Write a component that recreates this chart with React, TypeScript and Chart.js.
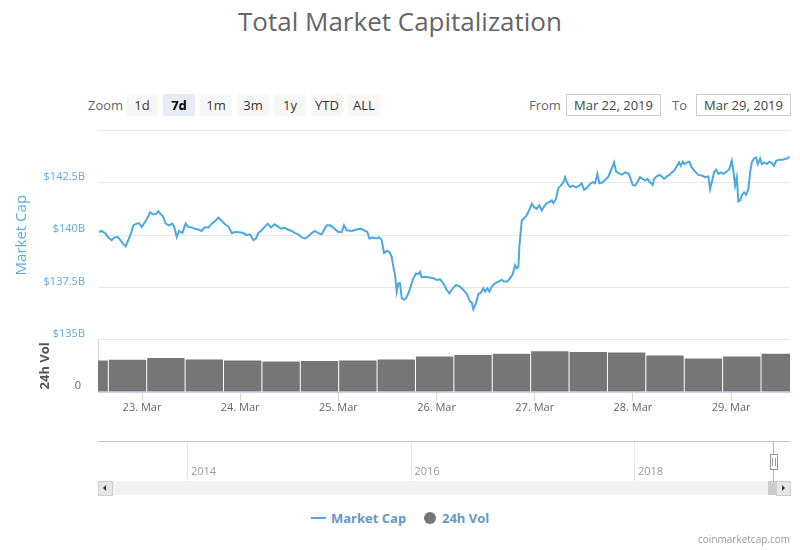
import React, { useEffect, useRef } from "react";
import { Chart, registerables } from "chart.js";

Chart.register(...registerables);
Chart.defaults.font.family = "'Open Sans', sans-serif";

// ---- data (hours since 22 Mar 2019 00:00) ----
const capHours = [
  13.48, 14.14, 14.95, 15.76, 16.59, 17.22, 18.06, 18.62, 19.43, 20.01,
  20.65, 21.31, 21.87, 22.7, 23.26, 23.92, 24.73, 25.39, 25.95, 26.76,
  27.59, 27.98, 28.64, 29.2, 29.79, 30.6, 31.4, 31.89, 32.48, 33.04,
  33.85, 34.68, 35.32, 36.29, 36.96, 37.76, 38.59, 39.4, 40.21, 41.04,
  41.84, 42.65, 43.31, 44.29, 45.1, 45.93, 46.73, 47.71, 48.76, 49.6,
  50.4, 51.21, 51.87, 52.43, 53.26, 54.07, 54.73, 55.54, 56.34, 57.17,
  57.98, 58.79, 59.62, 60.6, 61.4, 62.21, 63.04, 63.85, 64.66, 65.49,
  66.29, 67.1, 67.93, 68.57, 69.15,
  69.96, 70.77, 71.99, 72.82, 73.38, 74.04, 75.26, 76.49, 77.47, 78.52,
  79.08, 79.57, 80.4, 81.21, 82.01, 82.6, 83.16, 83.82, 84.46, 85.04,
  85.44, 85.85, 86.27, 86.66, 87.07, 87.49, 88.05, 88.54, 89.1, 89.69,
  90.33, 90.99, 91.55, 91.96, 92.38, 93.18, 94.24, 95.22, 96.05, 96.85,
  97.66, 98.49, 99.13, 99.96, 100.76, 101.74, 102.55, 103.38, 104.19, 104.6,
  104.99, 105.65, 106.22, 106.8, 107.44, 107.86, 108.42, 108.91, 109.49, 110.3,
  111.11, 111.94, 112.5, 113.31, 113.97, 114.63, 115.19, 115.61, 116.0, 116.24,
  116.83, 117.39, 118.05, 118.69, 119.27, 119.84, 120.49, 121.13, 121.71, 122.28,
  122.94, 123.58, 124.16, 124.55, 125.21, 125.78, 126.36, 127.0, 127.41, 127.97,
  128.63, 129.3, 130.1, 130.91, 131.49, 132.06, 132.72, 133.52, 134.18, 134.75,
  135.31, 135.8, 136.63, 137.44, 138.0, 138.59, 139.08, 139.4, 139.88, 140.44,
  141.27, 142.08, 142.89,
  143.3, 143.96, 144.52, 145.09, 145.75, 146.41, 146.97, 147.53, 148.19, 148.85,
  149.17, 149.83, 150.47, 151.06, 151.62, 152.28, 152.92, 153.5, 154.06, 154.72,
  155.28, 155.7, 156.19, 156.58, 157.17, 157.8, 158.39, 159.2, 160.0, 160.84,
  161.64, 162.45, 162.87, 163.28, 163.84, 164.33, 164.9, 165.48, 166.12, 166.95,
  167.58, 168.17, 168.56, 168.98, 169.39, 169.78, 170.2, 170.61, 171.18, 171.67,
  172.23, 172.65, 173.06, 173.62, 174.11, 174.53, 175.09, 175.51, 176.07, 176.73,
  177.37, 177.95, 178.52, 179.01, 179.81, 180.64, 181.2, 181.77, 182.26,
];

const capValues = [
  140.15, 140.2, 140.1, 139.89, 139.76, 139.89, 139.91, 139.79, 139.57, 139.47,
  139.76, 140.08, 140.47, 140.55, 140.58, 140.39, 140.63, 140.84, 141.1, 140.99,
  141.03, 141.15, 140.99, 140.87, 140.55, 140.47, 140.55, 140.39, 139.91, 140.2,
  140.1, 140.55, 140.39, 140.36, 140.31, 140.27, 140.2, 140.39, 140.36, 140.55,
  140.67, 140.84, 140.71, 140.52, 140.42, 140.1, 140.15, 140.14, 140.1, 140.0,
  140.04, 139.76, 139.84, 140.1, 140.23, 140.42, 140.55, 140.36, 140.52, 140.42,
  140.31, 140.36, 140.27, 140.2, 140.1, 140.04, 139.89, 139.84, 139.95, 140.1,
  140.2, 140.1, 140.04, 140.27, 140.47,
  140.47, 140.36, 140.15, 140.15, 140.47, 140.23, 140.2, 140.27, 140.31, 140.2,
  140.15, 139.84, 139.89, 139.84, 139.89, 139.76, 139.15, 139.25, 139.2, 138.96,
  138.49, 138.09, 137.3, 137.7, 137.7, 136.99, 136.91, 136.99, 137.22, 137.54,
  137.94, 138.17, 138.14, 138.25, 137.98, 138.01, 137.98, 137.94, 137.86, 137.89,
  137.7, 137.38, 137.22, 137.46, 137.62, 137.54, 137.38, 137.19, 136.83, 136.78,
  136.46, 136.75, 137.19, 137.25, 137.46, 137.3, 137.46, 137.3, 137.54, 137.7,
  137.78, 137.86, 137.78, 137.78, 137.94, 138.14, 138.57, 138.41, 138.49, 139.44,
  140.71, 140.79, 140.95, 141.22, 141.5, 141.34, 141.26, 141.42, 141.18, 141.37,
  141.53, 141.58, 141.66, 141.53, 141.74, 142.26, 142.37, 142.53, 142.77, 142.48,
  142.29, 142.37, 142.29, 142.37, 142.48, 142.17, 142.26, 142.45, 142.53, 142.48,
  142.93, 142.48, 142.53, 142.69, 142.8, 143.08, 143.32, 143.48, 143.05, 142.96,
  142.89, 143.0, 142.96,
  142.77, 142.4, 142.37, 142.53, 142.77, 142.69, 142.61, 142.69, 142.53, 142.4,
  142.69, 142.81, 142.88, 142.81, 142.69, 142.81, 142.88, 143.0, 143.08, 143.29,
  143.48, 143.32, 143.51, 143.4, 143.48, 143.51, 143.24, 143.04, 142.88, 142.85,
  142.77, 142.81, 142.21, 142.53, 143.0, 143.13, 142.93, 143.0, 142.93, 143.04,
  143.17, 143.56, 143.08, 142.37, 142.77, 141.61, 141.66, 141.9, 142.05, 141.93,
  142.21, 143.0, 143.48, 143.67, 143.72, 143.4, 143.67, 143.4, 143.48, 143.4,
  143.51, 143.45, 143.32, 143.56, 143.61, 143.61, 143.64, 143.67, 143.76,
];

const volHours = [
  11.07, 20.46, 29.84, 39.23, 48.61, 58.0, 67.38, 76.77, 86.15, 95.54,
  104.92, 114.31, 123.69, 133.08, 142.46, 151.85, 161.23, 170.62, 180.0,
];
const volValues = [
  30.2, 30.8, 32.4, 31.1, 30.2, 29.2, 29.7, 30.2, 31.1, 34.0,
  35.4, 36.5, 38.9, 38.2, 37.7, 34.9, 32.1, 34.0, 36.5,
];

const xMin = 13.24;
const xMax = 182.4;
const dayTicks = [24, 48, 72, 96, 120, 144, 168];
const dayLabels = ["23. Mar", "24. Mar", "25. Mar", "26. Mar", "27. Mar", "28. Mar", "29. Mar"];
const priceTicks = [135, 137.5, 140, 142.5, 145];
const priceLabels = ["$135B", "$137.5B", "$140B", "$142.5B", ""];
const volTicks = [0, 50];
const volLabels = ["0", ""];
const navMin = 2013.195;
const navMax = 2019.387;
const navYears = [2014, 2016, 2018];
const zoomButtons = ["1d", "7d", "1m", "3m", "1y", "YTD", "ALL"];
const selectedZoom = "7d";
const fromDate = "Mar 22, 2019";
const toDate = "Mar 29, 2019";

const LINE = "#4ba8e0";
const AXIS_BLUE = "#5eaae0";
const LEGEND = "#6797c9";
const VOL = "#767676";

export default function App() {
  const mainRef = useRef<HTMLCanvasElement>(null);
  const navRef = useRef<HTMLCanvasElement>(null);

  useEffect(() => {
    const main = new Chart(mainRef.current as HTMLCanvasElement, {
      type: "line",
      data: {
        datasets: [
          {
            type: "line",
            label: "Market Cap",
            data: capHours.map((h, i) => ({ x: h, y: capValues[i] })),
            yAxisID: "y",
            borderColor: LINE,
            backgroundColor: LINE,
            borderWidth: 2,
            pointRadius: 0,
            tension: 0,
            order: 0,
          } as any,
          {
            type: "bar",
            label: "24h Vol",
            data: volHours.map((h, i) => ({ x: h, y: volValues[i] })),
            yAxisID: "yVol",
            backgroundColor: VOL,
            barPercentage: 0.974,
            categoryPercentage: 1,
            order: 1,
          } as any,
        ],
      },
      options: {
        responsive: false,
        animation: false,
        layout: { padding: { top: 8, bottom: 6, left: 0, right: 10 } },
        plugins: { legend: { display: false }, tooltip: { enabled: false } },
        scales: {
          x: {
            type: "linear",
            min: xMin,
            max: xMax,
            offset: false,
            afterBuildTicks: (s: any) => {
              s.ticks = dayTicks.map((v) => ({ value: v }));
            },
            afterFit: (s: any) => {
              s.height = 22;
            },
            ticks: {
              callback: (v: any) => dayLabels[dayTicks.indexOf(Number(v))],
              color: "#666",
              font: { size: 11 },
              padding: 0,
              maxRotation: 0,
              autoSkip: false,
            },
            grid: {
              display: true,
              drawOnChartArea: false,
              drawTicks: true,
              tickLength: 9,
              color: "#ccd6eb",
              offset: false,
            },
            border: { display: true, color: "#ccd6eb" },
          },
          y: {
            type: "linear",
            position: "left",
            stack: "main",
            stackWeight: 4,
            weight: 1,
            min: 135,
            max: 145,
            afterBuildTicks: (s: any) => {
              s.ticks = priceTicks.map((v) => ({ value: v }));
            },
            afterFit: (s: any) => {
              s.width = 98;
            },
            ticks: {
              callback: (v: any) => priceLabels[priceTicks.indexOf(Number(v))],
              color: AXIS_BLUE,
              font: { size: 11 },
              padding: 13,
              labelOffset: -6,
            },
            grid: { color: "#e6e6e6", drawTicks: false },
            border: { display: false },
            title: {
              display: true,
              text: "Market Cap",
              color: AXIS_BLUE,
              font: { size: 15 },
              padding: { top: 13, bottom: 0 },
            },
          },
          yVol: {
            type: "linear",
            position: "left",
            stack: "main",
            stackWeight: 1,
            weight: 0,
            min: 0,
            max: 50,
            afterBuildTicks: (s: any) => {
              s.ticks = volTicks.map((v) => ({ value: v }));
            },
            afterFit: (s: any) => {
              s.width = 98;
            },
            ticks: {
              callback: (v: any) => volLabels[volTicks.indexOf(Number(v))],
              color: "#666",
              font: { size: 11 },
              padding: 17,
              labelOffset: -6,
            },
            grid: { color: "#e6e6e6", drawTicks: false },
            border: { display: true, color: "#ccd6eb" },
            title: {
              display: true,
              text: "24h Vol",
              color: "#555",
              font: { size: 13, weight: "bold" },
              padding: { top: 37, bottom: 0 },
            },
          },
        },
      } as any,
    });

    const nav = new Chart(navRef.current as HTMLCanvasElement, {
      type: "line",
      data: { datasets: [] },
      options: {
        responsive: false,
        animation: false,
        layout: { padding: { top: 11, bottom: 9, left: 98, right: 10 } },
        plugins: { legend: { display: false }, tooltip: { enabled: false } },
        scales: {
          x: {
            type: "linear",
            min: navMin,
            max: navMax,
            afterBuildTicks: (s: any) => {
              s.ticks = navYears.map((v) => ({ value: v }));
            },
            afterFit: (s: any) => {
              s.height = 19;
            },
            ticks: {
              callback: (v: any) => String(v),
              color: "#999",
              font: { size: 11 },
              align: "start",
              labelOffset: 3,
              padding: -15.6,
              maxRotation: 0,
              autoSkip: false,
            },
            grid: { color: "#e6e6e6", tickLength: 19, drawTicks: true },
            border: { display: false },
          },
          y: { display: false, min: 0, max: 1 },
        },
      } as any,
    });

    return () => {
      main.destroy();
      nav.destroy();
    };
  }, []);

  const abs = (s: React.CSSProperties): React.CSSProperties => ({ position: "absolute", ...s });

  return (
    <div
      style={{
        position: "absolute",
        left: 0,
        top: 0,
        width: 800,
        height: 550,
        background: "#fff",
        overflow: "hidden",
        fontFamily: "'Open Sans', sans-serif",
      }}
    >
      <div style={abs({ left: 0, top: 4, width: 800, textAlign: "center", fontSize: 26, lineHeight: "34px", color: "#666" })}>
        Total Market Capitalization
      </div>

      <div style={abs({ left: 88, top: 94, height: 22, lineHeight: "22px", fontSize: 13, color: "#666" })}>Zoom</div>
      {zoomButtons.map((b, i) => {
        const sel = b === selectedZoom;
        return (
          <div
            key={b}
            style={abs({
              left: 126 + i * 37,
              top: 94,
              width: 32,
              height: 22,
              lineHeight: "22px",
              textAlign: "center",
              fontSize: 13,
              borderRadius: 2,
              background: sel ? "#e6ebf5" : "#f7f7f7",
              color: sel ? "#000" : "#333",
              fontWeight: sel ? "bold" : "normal",
            })}
          >
            {b}
          </div>
        );
      })}

      <div style={abs({ left: 529, top: 94, height: 22, lineHeight: "22px", fontSize: 13, color: "#666" })}>From</div>
      <div
        style={abs({
          left: 566,
          top: 94,
          width: 93,
          height: 20,
          lineHeight: "20px",
          border: "1px solid #ccc",
          textAlign: "center",
          fontSize: 13,
          color: "#444",
        })}
      >
        {fromDate}
      </div>
      <div style={abs({ left: 672, top: 94, height: 22, lineHeight: "22px", fontSize: 13, color: "#666" })}>To</div>
      <div
        style={abs({
          left: 696,
          top: 94,
          width: 93,
          height: 20,
          lineHeight: "20px",
          border: "1px solid #ccc",
          textAlign: "center",
          fontSize: 13,
          color: "#444",
        })}
      >
        {toDate}
      </div>

      <canvas ref={mainRef} width={800} height={313} style={abs({ left: 0, top: 107 })} />
      <canvas ref={navRef} width={800} height={60} style={abs({ left: 0, top: 430 })} />

      {/* navigator chrome */}
      <div style={abs({ left: 98, top: 441, width: 692, height: 1, background: "#c4c4c4" })} />
      <div style={abs({ left: 773, top: 441, width: 1, height: 40, background: "#b8b8b8" })} />
      <div style={abs({ left: 98, top: 481, width: 692, height: 14, background: "#f2f2f2" })} />
      <div style={abs({ left: 98, top: 481, width: 13, height: 13, background: "#e6e6e6", border: "1px solid #cccccc" })}>
        <div
          style={abs({
            left: 4,
            top: 3,
            width: 0,
            height: 0,
            borderTop: "3px solid transparent",
            borderBottom: "3px solid transparent",
            borderRight: "3px solid #333",
          })}
        />
      </div>
      <div style={abs({ left: 768, top: 481, width: 9, height: 14, background: "#cccccc" })} />
      <div style={abs({ left: 776, top: 481, width: 13, height: 13, background: "#e6e6e6", border: "1px solid #cccccc" })}>
        <div
          style={abs({
            left: 5,
            top: 3,
            width: 0,
            height: 0,
            borderTop: "3px solid transparent",
            borderBottom: "3px solid transparent",
            borderLeft: "3px solid #333",
          })}
        />
      </div>
      <div style={abs({ left: 770, top: 454, width: 6, height: 14, background: "#fff", border: "1px solid #999" })}>
        <div style={abs({ left: 1, top: 3, width: 1, height: 8, background: "#999" })} />
        <div style={abs({ left: 4, top: 3, width: 1, height: 8, background: "#999" })} />
      </div>

      {/* legend */}
      <div style={abs({ left: 311, top: 517, width: 15, height: 2, background: LINE })} />
      <div style={abs({ left: 331, top: 509, lineHeight: "18px", fontSize: 13, fontWeight: "bold", color: LEGEND })}>
        Market Cap
      </div>
      <div style={abs({ left: 424, top: 512, width: 12, height: 12, borderRadius: "50%", background: VOL })} />
      <div style={abs({ left: 442, top: 509, lineHeight: "18px", fontSize: 13, fontWeight: "bold", color: LEGEND })}>
        24h Vol
      </div>

      <div style={abs({ right: 10, top: 532, lineHeight: "14px", fontSize: 10, color: "#999" })}>coinmarketcap.com</div>
    </div>
  );
}
